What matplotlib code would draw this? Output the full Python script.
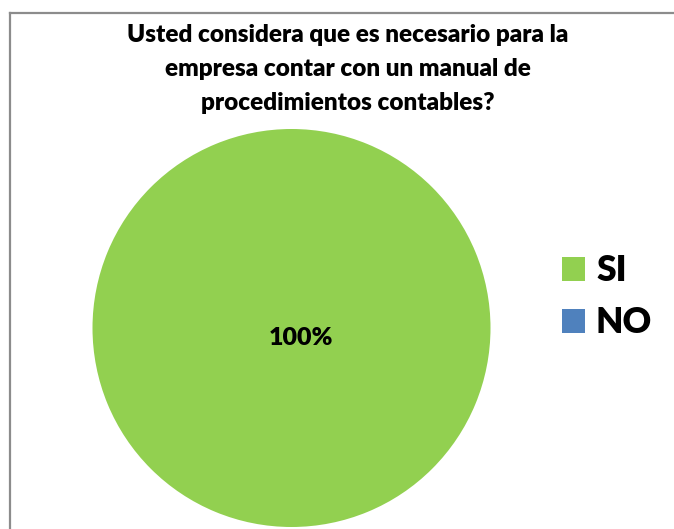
import matplotlib
matplotlib.use('Agg')
import matplotlib.pyplot as plt
from matplotlib.lines import Line2D

plt.rcParams['font.family'] = ['Lato', 'DejaVu Sans']

labels = ['SI', 'NO']
values = [100, 0]
colors = ['#92D050', '#4F81BD']
title = 'Usted considera que es necesario para la\nempresa contar con un manual de\nprocedimientos contables?'

W, H = 674, 529
fig = plt.figure(figsize=(W / 100, H / 100), dpi=100)

# chart border (left and top edges only visible)
fig.add_artist(Line2D([9.5 / W, 9.5 / W], [0, 1 - 13 / H], color='#8c8c8c', lw=1.6))
fig.add_artist(Line2D([9.5 / W, 1], [1 - 13 / H, 1 - 13 / H], color='#8c8c8c', lw=1.6))

cx, cy, r = 291.5, 328, 199
ax = fig.add_axes([(cx - r) / W, (H - cy - r) / H, 2 * r / W, 2 * r / H])


def fmt(p):
    return '%.0f%%' % p if p > 0 else ''


wedges, texts, autotexts = ax.pie(values, colors=colors, startangle=90, counterclock=False,
                                  autopct=fmt, pctdistance=0.05,
                                  textprops=dict(fontsize=18, fontweight='heavy', color='black'))
ax.set_xlim(-1, 1)
ax.set_ylim(-1, 1)
ax.set_aspect('auto')
for t in autotexts:
    t.set_x(t.get_position()[0] + 0.05)

fig.text(348 / W, 1 - 24 / H, title, ha='center', va='top', fontsize=17.5, fontweight='heavy',
         linespacing=1.68)

fig.legend(wedges, labels, loc='upper left', bbox_to_anchor=(562 / W, 1 - 254 / H),
           frameon=False, prop=dict(size=25.5, weight='heavy'),
           handlelength=0.66, handleheight=0.66, handletextpad=0.3, labelspacing=0.55,
           borderpad=0, borderaxespad=0)

fig.savefig('out.png', dpi=100)
